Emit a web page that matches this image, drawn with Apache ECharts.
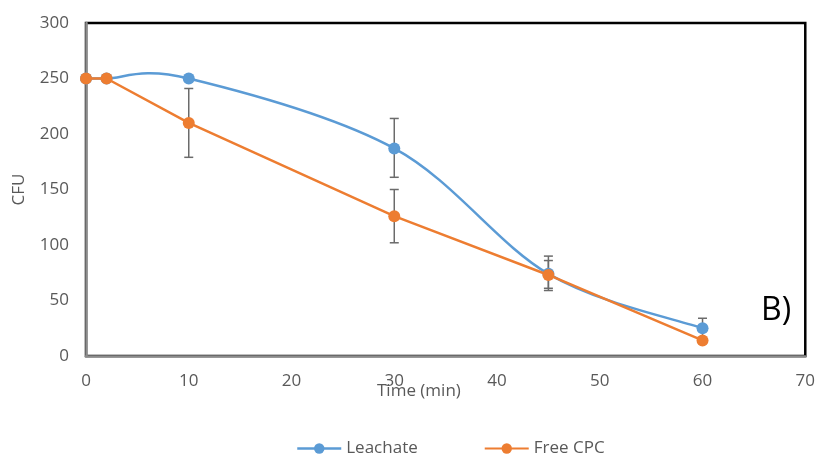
<!DOCTYPE html>
<html>
<head>
<meta charset="utf-8">
<script src="https://cdn.jsdelivr.net/npm/echarts@6/dist/echarts.min.js"></script>
<style>html,body{margin:0;padding:0;background:#fff;}#c{width:818px;height:454px;}</style>
</head>
<body>
<div id="c"></div>
<script>
var timeLeachate = [0, 2, 10, 30, 45, 60];
var leachate = [250, 250, 250, 187, 74, 25];
var leachateErrX = [30, 45, 60];
var leachateErrLow = [161, 59, 16];
var leachateErrHigh = [214, 90, 34];

var timeFree = [0, 2, 10, 30, 45, 60];
var freeCPC = [250, 250, 210, 126, 73, 14];
var freeErrX = [10, 30, 45];
var freeErrLow = [179, 102, 61];
var freeErrHigh = [241, 150, 86];

var yTicks = [0, 50, 100, 150, 200, 250, 300];
var xTicks = [0, 10, 20, 30, 40, 50, 60, 70];

function pairs(xs, ys) { return xs.map(function (x, i) { return [x, ys[i]]; }); }
function errData(xs, lo, hi) { return xs.map(function (x, i) { return [x, lo[i], hi[i]]; }); }

function renderErr(params, api) {
  var x = api.value(0);
  var lo = api.coord([x, api.value(1)]);
  var hi = api.coord([x, api.value(2)]);
  var w = 4.5;
  var st = { stroke: '#6b6b6b', lineWidth: 1.5 };
  return {
    type: 'group',
    children: [
      { type: 'line', shape: { x1: lo[0], y1: lo[1], x2: hi[0], y2: hi[1] }, style: st },
      { type: 'line', shape: { x1: lo[0] - w, y1: lo[1], x2: lo[0] + w, y2: lo[1] }, style: st },
      { type: 'line', shape: { x1: hi[0] - w, y1: hi[1], x2: hi[0] + w, y2: hi[1] }, style: st }
    ]
  };
}

// Excel-style smoothed curve (Catmull-Rom tangents) through the data points, in pixel space
function renderSmooth(params, api) {
  if (params.dataIndex !== 0) return null;
  var pts = timeLeachate.map(function (t, i) { return api.coord([t, leachate[i]]); });
  var d = 'M' + pts[0][0] + ',' + pts[0][1];
  for (var i = 0; i < pts.length - 1; i++) {
    var p0 = pts[Math.max(i - 1, 0)], p1 = pts[i], p2 = pts[i + 1], p3 = pts[Math.min(i + 2, pts.length - 1)];
    var c1 = [p1[0] + (p2[0] - p0[0]) / 6, p1[1] + (p2[1] - p0[1]) / 6];
    var c2 = [p2[0] - (p3[0] - p1[0]) / 6, p2[1] - (p3[1] - p1[1]) / 6];
    d += ' C' + c1[0] + ',' + c1[1] + ' ' + c2[0] + ',' + c2[1] + ' ' + p2[0] + ',' + p2[1];
  }
  return { type: 'path', shape: { pathData: d }, style: { fill: null, stroke: '#5B9BD5', lineWidth: 2.5 } };
}

var font = '"Open Sans", sans-serif';
var chart = echarts.init(document.getElementById('c'), null, { renderer: 'canvas' });
chart.setOption({
  animation: false,
  backgroundColor: '#fff',
  textStyle: { fontFamily: font },
  grid: { left: 86, right: 11, top: 23, bottom: 98, show: true, borderColor: '#000', borderWidth: 2.5, backgroundColor: 'transparent' },
  xAxis: {
    type: 'value', min: 0, max: 70, interval: 10,
    axisLine: { show: true, onZero: false, lineStyle: { color: '#8c8c8c', width: 2.5 } },
    axisTick: { show: false },
    splitLine: { show: false },
    axisLabel: { color: '#595959', fontSize: 17, margin: 17, fontFamily: font }
  },
  yAxis: {
    type: 'value', min: 0, max: 300, interval: 50,
    name: 'CFU', nameLocation: 'middle', nameGap: 58, nameRotate: 90,
    nameTextStyle: { color: '#595959', fontSize: 17, fontFamily: font },
    axisLine: { show: true, lineStyle: { color: '#8c8c8c', width: 2.5 } },
    axisTick: { show: false },
    splitLine: { show: false },
    axisLabel: { color: '#595959', fontSize: 17, margin: 17, fontFamily: font }
  },
  legend: {
    top: 435, left: 291, itemGap: 66, itemWidth: 44, itemHeight: 13,
    textStyle: { color: '#595959', fontSize: 17, fontFamily: font },
    data: [
      { name: 'Leachate', lineStyle: { opacity: 1, color: '#5B9BD5', width: 2.5 } },
      { name: 'Free CPC' }
    ]
  },
  graphic: [
    { type: 'text', left: 377, top: 383, style: { text: 'Time (min)', fill: '#595959', font: '17px ' + font } },
    { type: 'text', left: 761, top: 295, style: { text: 'B)', fill: '#000', font: '32px ' + font } }
  ],
  series: [
    { type: 'custom', name: 'errL', renderItem: renderErr, data: errData(leachateErrX, leachateErrLow, leachateErrHigh), z: 1, silent: true },
    { type: 'custom', name: 'errF', renderItem: renderErr, data: errData(freeErrX, freeErrLow, freeErrHigh), z: 1, silent: true },
    { type: 'custom', name: 'curveL', renderItem: renderSmooth, data: pairs(timeLeachate, leachate), z: 2, silent: true, clip: true },
    {
      name: 'Leachate', type: 'line', data: pairs(timeLeachate, leachate),
      symbol: 'circle', symbolSize: 12, z: 3,
      itemStyle: { color: '#5B9BD5' }, lineStyle: { color: '#5B9BD5', width: 2.5, opacity: 0 }
    },
    {
      name: 'Free CPC', type: 'line', smooth: false, data: pairs(timeFree, freeCPC),
      symbol: 'circle', symbolSize: 12, z: 4,
      itemStyle: { color: '#ED7D31' }, lineStyle: { color: '#ED7D31', width: 2.5 }
    }
  ]
});
</script>
</body>
</html>
